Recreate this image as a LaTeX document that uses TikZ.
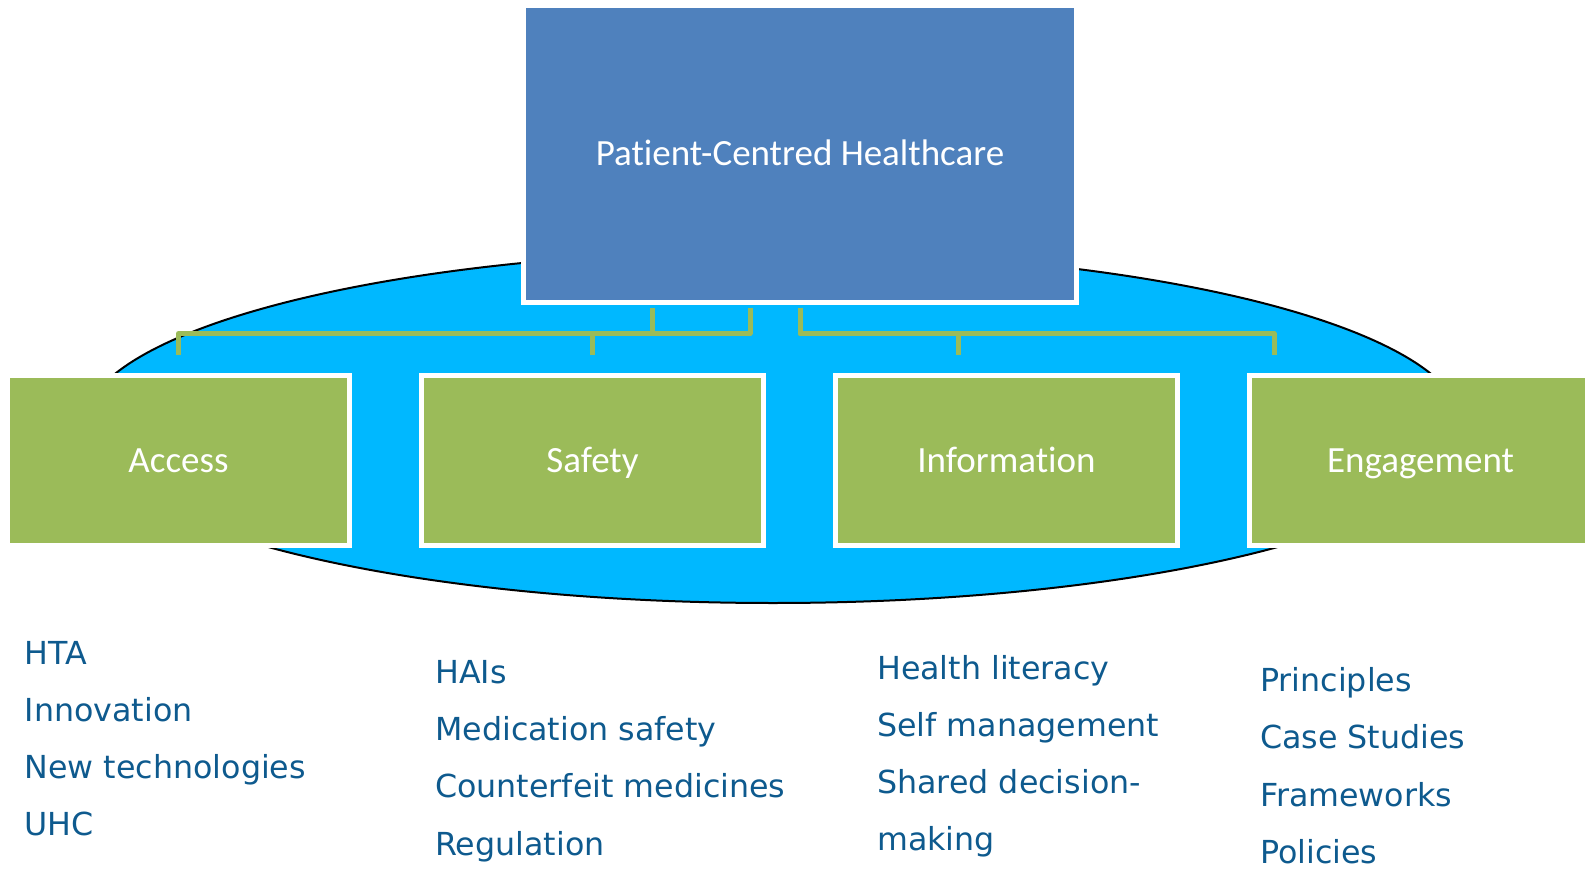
\documentclass[tikz,border=0pt]{standalone}
\usepackage{fontspec}
\setmainfont{DejaVu Sans}
\newfontfamily\boxfont[Ligatures=NoCommon]{Carlito}
\definecolor{pcblue}{HTML}{4F81BD}
\definecolor{catgreen}{HTML}{9BBB59}
\definecolor{ellblue}{HTML}{00B8FF}
\definecolor{itemblue}{HTML}{0E5A8E}
\begin{document}
\begin{tikzpicture}[x=1pt,y=-1pt,
  pcbox/.style={rectangle, fill=pcblue, draw=white, line width=5pt, inner sep=0pt,
    minimum width=553pt, minimum height=297pt, text=white,
    text height=30pt, text depth=6pt,
    font=\boxfont\fontsize{37}{44}\selectfont},
  catbox/.style={rectangle, fill=catgreen, draw=white, line width=5pt, inner sep=0pt,
    minimum width=342pt, minimum height=170pt, text=white,
    text height=30pt, text depth=6pt,
    font=\boxfont\fontsize{37}{44}\selectfont},
  item/.style={anchor=base west, inner sep=0pt, text=itemblue,
    font=\fontsize{31.7}{38}\selectfont},
  link/.style={draw=catgreen, line width=5pt, line join=round}
]
\useasboundingbox (0,0) rectangle (1585,869);
\clip (0,0) rectangle (1585,869);
% background ellipse
\draw[fill=ellblue, draw=black, line width=2pt] (773,427) ellipse [x radius=690pt, y radius=176pt];
% main nodes
\node[pcbox] (pc) at (800,154) {Patient-Centred Healthcare};
\node[catbox] (acc) at (178.5,460.5) {Access};
\node[catbox] (saf) at (592.5,460.5) {Safety};
\node[catbox] (inf) at (1006.5,460.5) {Information};
\node[catbox] (eng) at (1420.5,460.5) {Engagement};
% connector end points
\coordinate (pcA) at ([xshift=-148pt,yshift=-2.5pt]pc.south);
\coordinate (pcS) at ([xshift=-50pt,yshift=-2.5pt]pc.south);
\coordinate (pcR) at ([yshift=-2.5pt]pc.south);
\coordinate (tA) at ([yshift=18.5pt]acc.north);
\coordinate (tS) at ([yshift=18.5pt]saf.north);
\coordinate (tI) at ([xshift=-48.5pt,yshift=18.5pt]inf.north);
\coordinate (tE) at ([xshift=-146.5pt,yshift=18.5pt]eng.north);
\draw[link] (pcA) -- ++(0,26) -| (tA);
\draw[link] (pcS) -- ++(0,26) -| (tS);
\draw[link] (pcR) -- ++(0,26) -| (tI);
\draw[link] (pcR) -- ++(0,26) -| (tE);
% item lists
\node[item] (a1) at (24.5,664) {HTA};
\node[item] (a2) at (24.5,721) {Innovation};
\node[item] (a3) at (24.5,778) {New technologies};
\node[item] (a4) at (24.5,835.5) {UHC};
\node[item] (s1) at (435,683.5) {HAIs};
\node[item] (s2) at (435,740.5) {Medication safety};
\node[item] (s3) at (435,797.5) {Counterfeit medicines};
\node[item] (s4) at (435,855) {Regulation};
\node[item] (n1) at (877,679.5) {Health literacy};
\node[item] (n2) at (877,736.5) {Self management};
\node[item] (n3) at (877,793.5) {Shared decision-};
\node[item] (n4) at (877,850.5) {making};
\node[item] (e1) at (1260,691.5) {Principles};
\node[item] (e2) at (1260,748.5) {Case Studies};
\node[item] (e3) at (1260,806) {Frameworks};
\node[item] (e4) at (1260,863) {Policies};
\end{tikzpicture}
\end{document}
